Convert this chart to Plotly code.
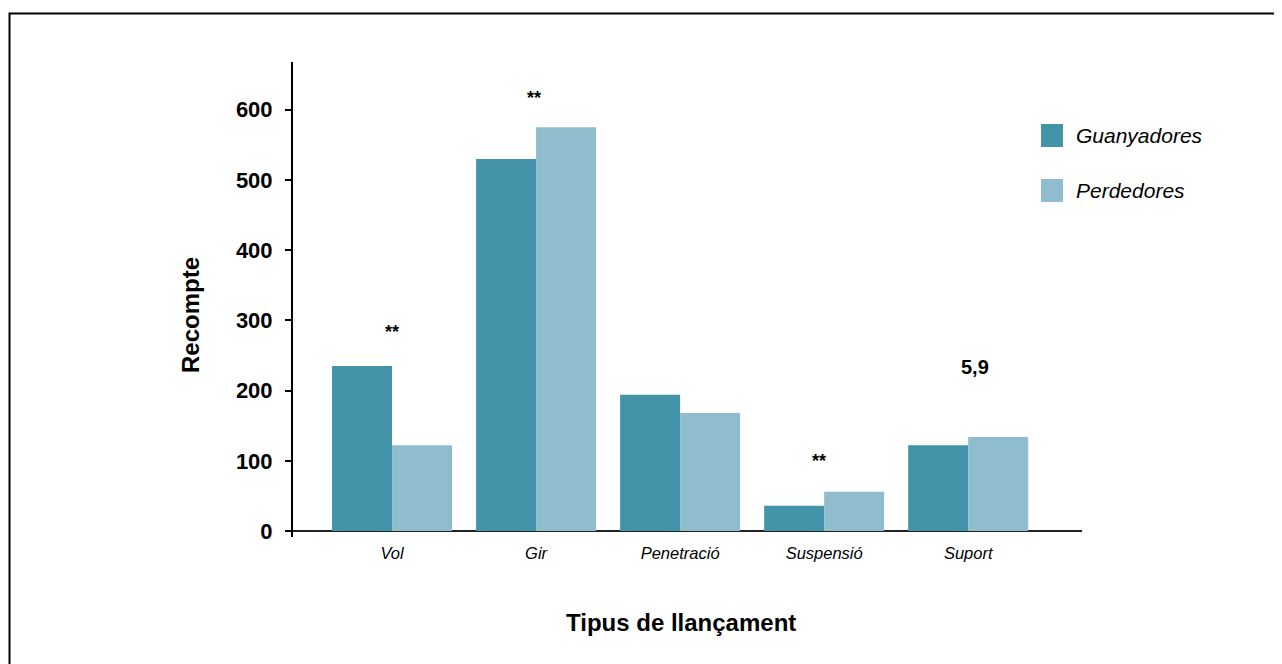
import plotly.graph_objects as go

categories = ["Vol", "Gir", "Penetració", "Suspensió", "Suport"]
guanyadores = [235, 530, 194, 36, 122]
perdedores = [122, 575, 168, 56, 134]
y_ticks = [0, 100, 200, 300, 400, 500, 600]

marks = [("**", 0, 283), ("**", 0.985, 617), ("**", 2.965, 100), ("5,9", 4.05, 234)]

C1 = "#4393a9"
C2 = "#90bdcd"
FONT = "Liberation Sans, Arial, Helvetica, sans-serif"

W, H = 1282, 664
OFF = 8  # page body margin
L, R, T, B = 293 - OFF, 1082 - OFF, 62 - OFF, 537 - OFF


def px(x):
    return (x - OFF - L) / (R - L)


def py(y):
    return (B - (y - OFF)) / (B - T)


fig = go.Figure()
fig.add_trace(go.Bar(x=categories, y=guanyadores, name="Guanyadores",
                     marker=dict(color=C1, line=dict(width=0)), showlegend=False))
fig.add_trace(go.Bar(x=categories, y=perdedores, name="Perdedores",
                     marker=dict(color=C2, line=dict(width=0)), showlegend=False))

annotations = []
for text, xv, yv in marks:
    annotations.append(dict(x=xv, y=yv, xref="x", yref="y", text=text, showarrow=False,
                            font=dict(family=FONT, size=20 if text != "**" else 18,
                                      color="black", weight="bold"),
                            xanchor="center", yanchor="middle"))

# axis titles
annotations.append(dict(x=px(190), y=py(315), xref="paper", yref="paper", text="Recompte",
                        textangle=-90, showarrow=False, xanchor="center", yanchor="middle",
                        font=dict(family=FONT, size=24, weight="bold", color="black")))
annotations.append(dict(x=px(681), y=py(622), xref="paper", yref="paper",
                        text="Tipus de llançament", showarrow=False,
                        xanchor="center", yanchor="middle",
                        font=dict(family=FONT, size=24, weight="bold", color="black")))

shapes = [
    dict(type="rect", xref="paper", yref="paper", x0=px(9.5), x1=px(1400), y0=py(800), y1=py(13.5),
         line=dict(color="black", width=2), fillcolor="rgba(0,0,0,0)", layer="below"),
]
legend_items = [("Guanyadores", C1, 124, 147), ("Perdedores", C2, 179, 202)]
for name, col, ytop, ybot in legend_items:
    shapes.append(dict(type="rect", xref="paper", yref="paper", x0=px(1041), x1=px(1063),
                       y0=py(ybot), y1=py(ytop), fillcolor=col, line=dict(width=0)))
    annotations.append(dict(x=px(1074), y=py((ytop + ybot) / 2), xref="paper", yref="paper",
                            text=name, showarrow=False, xanchor="left", yanchor="middle",
                            font=dict(family=FONT, size=21, color="black", style="italic")))

fig.update_layout(
    width=W, height=H,
    margin=dict(l=L, r=W - R, t=T, b=H - B, autoexpand=False),
    paper_bgcolor="white", plot_bgcolor="white",
    barmode="group", bargap=0.167, bargroupgap=0,
    font=dict(family=FONT, color="black"),
    shapes=shapes, annotations=annotations,
)
fig.update_xaxes(
    type="category", range=[-0.6875, 4.79], showline=False, showgrid=False, ticks="",
    tickfont=dict(family=FONT, size=16.5, style="italic", color="black"),
    ticklabelstandoff=4,
)
fig.update_yaxes(
    range=[-8.5, 668], tickvals=y_ticks, showgrid=False,
    showline=True, linecolor="black", linewidth=2,
    zeroline=True, zerolinecolor="#222222", zerolinewidth=2,
    ticks="outside", ticklen=6, tickwidth=2, tickcolor="black",
    tickfont=dict(family=FONT, size=22, weight="bold", color="black"),
    ticklabelstandoff=8,
)

fig.write_html("out.html")
